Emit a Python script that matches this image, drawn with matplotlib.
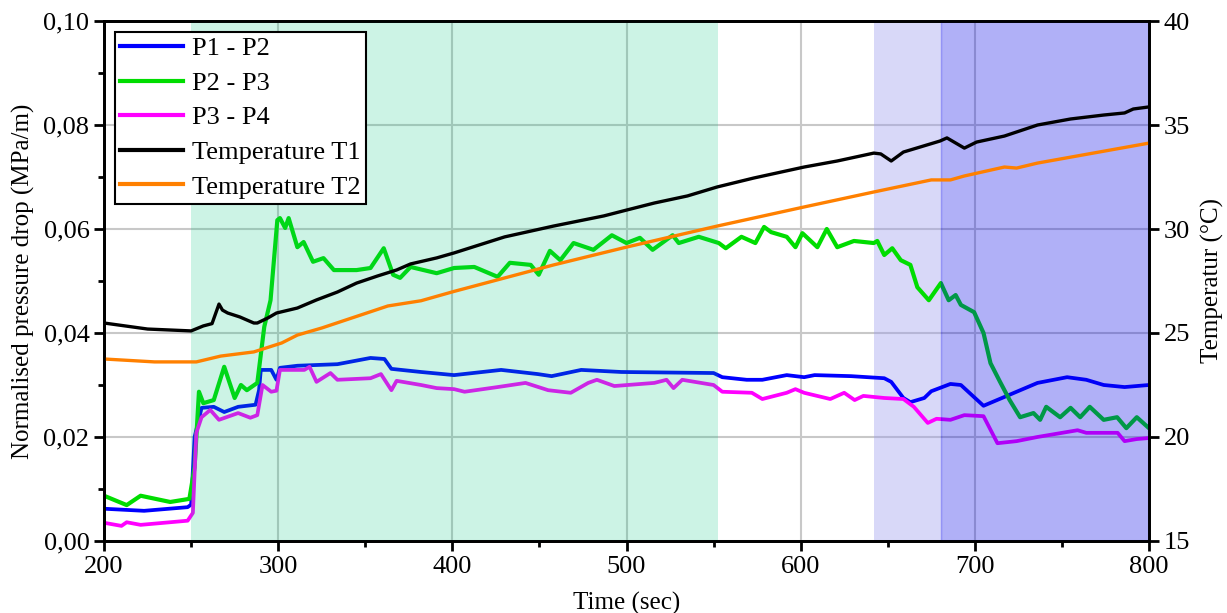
import numpy as np
import matplotlib
matplotlib.use("Agg")
import matplotlib.pyplot as plt
from matplotlib.ticker import MultipleLocator, FuncFormatter

plt.rcParams['font.family'] = ['Liberation Serif', 'DejaVu Serif']
plt.rcParams['font.size'] = 18

# (time [s], value) pairs
p1_p2 = np.array([
    [200, 0.0062], [223, 0.0058], [248, 0.0065], [250, 0.0070], [252, 0.0200],
    [256, 0.0256], [263, 0.0258], [269, 0.0248], [277, 0.0258], [287, 0.0262],
    [289, 0.0290], [290, 0.0329], [296, 0.0329], [299, 0.0310], [301, 0.0333],
    [311, 0.0337], [334, 0.0340], [353, 0.0352], [361, 0.0350], [365, 0.0331],
    [382, 0.0325], [401, 0.0319], [428, 0.0329], [449, 0.0321], [457, 0.0317],
    [474, 0.0329], [497, 0.0325], [550, 0.0323], [555, 0.0315], [569, 0.0310],
    [578, 0.0310], [592, 0.0319], [602, 0.0315], [608, 0.0319], [629, 0.0317],
    [648, 0.0313], [652, 0.0306], [659, 0.0275], [663, 0.0267], [671, 0.0275],
    [675, 0.0288], [686, 0.0302], [692, 0.0300], [705, 0.0260], [717, 0.0277],
    [724, 0.0287], [736, 0.0304], [753, 0.0315], [764, 0.0310], [774, 0.0300],
    [786, 0.0296], [800, 0.0300]])

p2_p3 = np.array([
    [200, 0.0087], [213, 0.0069], [221, 0.0087], [238, 0.0075], [249, 0.0081],
    [252, 0.0142], [254.5, 0.0287], [257, 0.0265], [263, 0.0271], [269, 0.0335],
    [275, 0.0275], [278.6, 0.0300], [282, 0.0290], [288, 0.0304], [292, 0.0412],
    [295.6, 0.0463], [299.5, 0.0617], [301, 0.0621], [304, 0.0602], [306, 0.0621],
    [311, 0.0565], [314.6, 0.0575], [320, 0.0537], [326, 0.0544], [332, 0.0521],
    [345, 0.0521], [353, 0.0525], [360.6, 0.0563], [366, 0.0512], [370, 0.0506],
    [376, 0.0527], [391, 0.0515], [401, 0.0525], [412.6, 0.0527], [426, 0.0508],
    [433, 0.0535], [445, 0.0531], [449.6, 0.0512], [456, 0.0558], [462, 0.0540],
    [469.6, 0.0573], [481, 0.0560], [491.6, 0.0588], [500, 0.0573], [507.7, 0.0583],
    [515, 0.0560], [526.5, 0.0588], [530, 0.0573], [541.5, 0.0585], [553, 0.0573],
    [557, 0.0563], [566, 0.0585], [574, 0.0573], [579, 0.0604], [583, 0.0594],
    [592, 0.0585], [597, 0.0565], [601, 0.0592], [609.6, 0.0565], [615, 0.0600],
    [621, 0.0565], [630.6, 0.0577], [642, 0.0573], [644, 0.0577], [648, 0.0550],
    [652.6, 0.0563], [657.5, 0.0540], [663, 0.0531], [667, 0.0488], [673.6, 0.0463],
    [680.5, 0.0496], [685, 0.0463], [689, 0.0473], [692, 0.0454], [699.6, 0.0440],
    [705, 0.0400], [709, 0.0342], [714.5, 0.0306], [720, 0.0271], [726, 0.0238],
    [733.7, 0.0246], [737.5, 0.0233], [741, 0.0258], [749, 0.0238], [755, 0.0256],
    [760.5, 0.0238], [766, 0.0258], [774, 0.0233], [781.7, 0.0238], [787, 0.0217],
    [793, 0.0238], [800, 0.0217]])

p3_p4 = np.array([
    [200, 0.0035], [210, 0.0029], [213, 0.0036], [221, 0.0031], [248, 0.0039],
    [251, 0.0054], [253, 0.0208], [256, 0.0238], [261, 0.0252], [266, 0.0233],
    [277, 0.0246], [284, 0.0237], [288, 0.0242], [291, 0.0300], [296, 0.0287],
    [299, 0.0289], [301, 0.0329], [315, 0.0329], [318, 0.0335], [322, 0.0306],
    [330, 0.0323], [334, 0.0310], [353, 0.0313], [359, 0.0321], [365, 0.0290],
    [368, 0.0308], [382, 0.0300], [391, 0.0294], [401, 0.0292], [407, 0.0287],
    [426, 0.0296], [442, 0.0304], [455, 0.0290], [468, 0.0285], [478, 0.0304],
    [483, 0.0310], [493, 0.0298], [516, 0.0304], [523, 0.0310], [527, 0.0294],
    [532, 0.0310], [550, 0.0300], [555, 0.0287], [572, 0.0285], [578, 0.0273],
    [592, 0.0285], [597, 0.0292], [602, 0.0285], [617, 0.0273], [625, 0.0285],
    [631, 0.0271], [636, 0.0279], [648, 0.0275], [659, 0.0273], [665, 0.0258],
    [673, 0.0227], [678, 0.0235], [686, 0.0233], [694, 0.0242], [705, 0.0240],
    [713, 0.0188], [724, 0.0192], [736, 0.0200], [759, 0.0213], [764, 0.0208],
    [782, 0.0208], [786, 0.0192], [793, 0.0196], [800, 0.0198]])

temp_t1 = np.array([
    [200, 25.48], [225, 25.19], [250, 25.10], [257, 25.34], [262, 25.45],
    [266, 26.39], [268, 26.10], [271, 25.96], [278, 25.77], [286, 25.48],
    [288, 25.48], [294, 25.72], [299, 25.96], [311, 26.20], [322, 26.59],
    [334, 26.97], [345, 27.40], [357, 27.74], [368, 28.03], [376, 28.32],
    [391, 28.61], [401, 28.85], [430, 29.62], [458, 30.14], [487, 30.63],
    [500, 30.91], [516, 31.25], [535, 31.59], [552, 32.02], [573, 32.45],
    [602, 32.98], [621, 33.27], [642, 33.65], [646, 33.61], [652, 33.27],
    [659, 33.70], [680, 34.23], [684, 34.38], [694, 33.89], [701, 34.18],
    [717, 34.47], [736, 35.00], [755, 35.29], [774, 35.48], [786, 35.58],
    [791, 35.77], [800, 35.87]])

temp_t2 = np.array([
    [200, 23.75], [229, 23.61], [253, 23.61], [267, 23.89], [286, 24.09],
    [302, 24.52], [311, 24.90], [325, 25.24], [344, 25.77], [363, 26.30],
    [382, 26.55], [401, 27.00], [458, 28.27], [500, 29.13], [552, 30.14],
    [602, 31.06], [642, 31.78], [675, 32.36], [686, 32.36], [694, 32.55],
    [717, 32.98], [724, 32.93], [736, 33.17], [800, 34.13]])

# shaded phases (s)
green_phase = (250, 552.5)
light_phase = (642, 680.5)
dark_phase = (680.5, 800)

fig = plt.figure(figsize=(12.27, 6.13), dpi=100)
ax = fig.add_axes([0.0848, 0.1175, 0.8516, 0.8482])
ax2 = ax.twinx()

ax.set_axisbelow(True)
ax.grid(True, which='major', color='#c8c8c8', lw=1.5)

ax.axvspan(*light_phase, color='#9999EE', alpha=0.38, lw=0, zorder=1)
l1, = ax.plot(p1_p2[:, 0], p1_p2[:, 1], color='#0000FF', lw=2.7, zorder=2, label='P1 - P2')
l2, = ax.plot(p2_p3[:, 0], p2_p3[:, 1], color='#00DD00', lw=3.0, zorder=2, label='P2 - P3')
l3, = ax.plot(p3_p4[:, 0], p3_p4[:, 1], color='#FF00FF', lw=2.7, zorder=2, label='P3 - P4')
ax.axvspan(*green_phase, color='#00C37D', alpha=0.2, lw=0, zorder=3)
ax.axvspan(*dark_phase, facecolor='#0000E8', alpha=0.31, edgecolor='#0000E8', lw=1, zorder=3)

l4, = ax2.plot(temp_t1[:, 0], temp_t1[:, 1], color='black', lw=2.4, label='Temperature T1')
l5, = ax2.plot(temp_t2[:, 0], temp_t2[:, 1], color='#FF8000', lw=2.4, label='Temperature T2')

ax.set_xlim(200, 800)
ax.set_ylim(0, 0.10)
ax2.set_ylim(15, 40)

ax.xaxis.set_major_locator(MultipleLocator(100))
ax.xaxis.set_minor_locator(MultipleLocator(50))
ax.yaxis.set_major_locator(MultipleLocator(0.02))
ax.yaxis.set_minor_locator(MultipleLocator(0.01))
ax.yaxis.set_major_formatter(FuncFormatter(lambda v, p: f"{v:.2f}".replace('.', ',')))
ax2.yaxis.set_major_locator(MultipleLocator(5))

for a in (ax, ax2):
    a.tick_params(which='major', direction='out', length=7, width=2, labelsize=19)
    a.tick_params(which='minor', direction='out', length=4, width=2)
    for s in a.spines.values():
        s.set_linewidth(2)

ax.set_xlabel('Time (sec)', fontsize=18, labelpad=10)
ax.set_ylabel('Normalised pressure drop (MPa/m)', fontsize=18, labelpad=6)
ax2.set_ylabel('Temperatur (°C)', fontsize=18, labelpad=8)

leg = ax2.legend(handles=[l1, l2, l3, l4, l5], loc='upper left', fontsize=19,
                 frameon=True, fancybox=False, framealpha=1, edgecolor='black',
                 borderaxespad=0.4, borderpad=0.2, labelspacing=0.42,
                 handlelength=2.4, handletextpad=0.35)
leg.get_frame().set_linewidth(1.5)
for h in leg.get_lines():
    h.set_linewidth(3)

fig.savefig('out.png', dpi=100)
